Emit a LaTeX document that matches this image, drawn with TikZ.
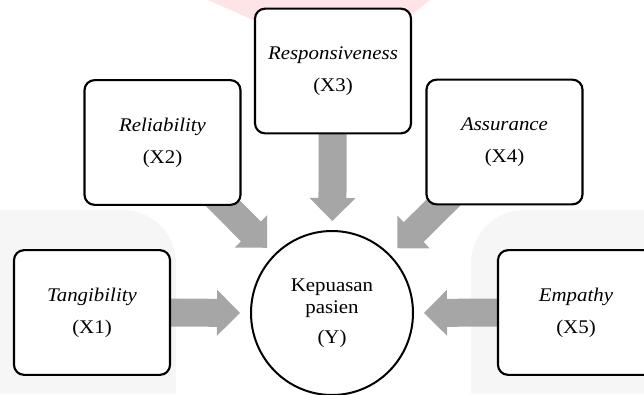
\documentclass[tikz,border=0pt]{standalone}
\usepackage{fontspec}
\setmainfont[FakeStretch=1.08]{Liberation Serif}
\usetikzlibrary{shapes.geometric,calc,backgrounds}
\definecolor{arrowgray}{RGB}{166,166,166}
\definecolor{markpink}{RGB}{255,228,231}
\definecolor{markgray}{RGB}{246,246,246}

\begin{document}
\begin{tikzpicture}[x=0.75pt,y=-0.75pt,font=\fontsize{14.5}{24}\selectfont,
  dim/.style={draw,line width=1.6pt,rounded corners=7.5pt,fill=white,minimum width=117pt,minimum height=93.5pt,align=center,inner sep=2pt},
  sat/.style={draw,ellipse,line width=1.5pt,fill=white,minimum width=121.5pt,minimum height=123pt,align=center,inner sep=0pt,font=\fontsize{14.5}{16.5}\selectfont},
  blk/.style={fill=arrowgray,to path={let \p1=(\tikztostart.center), \p2=($(\tikztotarget.center)!69pt!(\tikztostart.center)$), \n1={atan2(\y2-\y1,\x2-\x1)} in
    ($(\p1)+(\n1+90:10.5pt)$) -- ($(\p2)+(\n1+180:17.25pt)+(\n1+90:10.5pt)$) -- ($(\p2)+(\n1+180:17.25pt)+(\n1+90:17.25pt)$) -- (\p2)
    -- ($(\p2)+(\n1+180:17.25pt)+(\n1-90:17.25pt)$) -- ($(\p2)+(\n1+180:17.25pt)+(\n1-90:10.5pt)$) -- ($(\p1)+(\n1-90:10.5pt)$) -- cycle}}]
  \useasboundingbox (0,0) rectangle (644,394);
  \node[dim] (tan) at (92,312.5) {\textit{Tangibility}\\(X1)};
  \node[dim] (rel) at (162.5,142.5) {\textit{Reliability}\\(X2)};
  \node[dim] (res) at (333,71) {\textit{Responsiveness}\\(X3)};
  \node[dim] (ass) at (504.5,142) {\textit{Assurance}\\(X4)};
  \node[dim] (emp) at (576,312.5) {\textit{Empathy}\\(X5)};
  \node[sat] (kep) at (332,313) {Kepuasan\\pasien\\[6pt](Y)};
  \begin{scope}[on background layer]
    % faint watermark
    \fill[markpink] (208,0) -- (262,24) -- (400,24) -- (430,0) -- cycle;
    \fill[markgray] (0,394) -- (0,210) [rounded corners=40pt] -- (176,210) [sharp corners] -- (176,394) -- cycle;
    \fill[markgray] (644,394) -- (644,210) [rounded corners=40pt] -- (471,210) [sharp corners] -- (471,394) -- cycle;
    % block arrows
    \foreach \src in {tan,rel,res,ass,emp}
      \path[blk] (\src) to (kep);
  \end{scope}
\end{tikzpicture}
\end{document}
